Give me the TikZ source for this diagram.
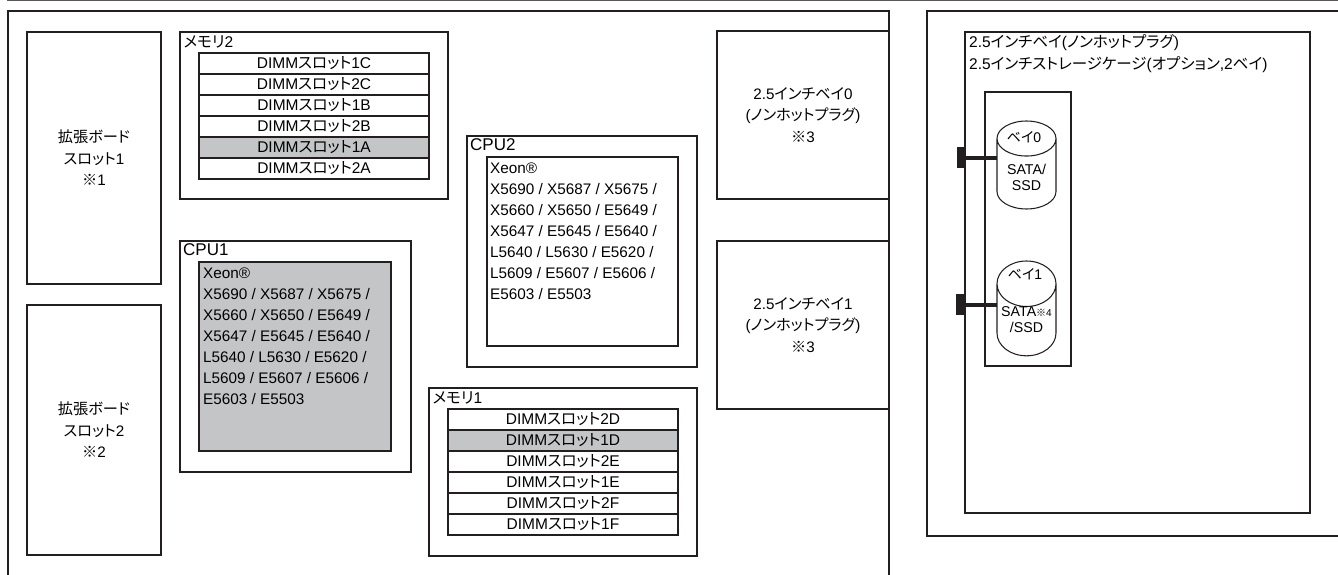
\documentclass[tikz,border=0pt]{standalone}
\usepackage{fontspec}
\setmainfont{Liberation Sans}
\newfontfamily\cjk[RawFeature=+palt]{Noto Sans CJK JP}
\usetikzlibrary{positioning,shapes.geometric}
\definecolor{BoxLine}{HTML}{231F20}
\definecolor{ActiveGray}{HTML}{C4C5C6}
\newcommand{\jp}[1]{{\cjk #1}}
\tikzset{
  outerbox/.style={draw=BoxLine,line width=1.05pt,anchor=north west,inner sep=0pt,outer sep=0pt},
  slotbox/.style={outerbox,align=center,font=\fontsize{15.2}{21.5}\selectfont},
  titletext/.style={anchor=north west,inner sep=0pt,font=\fontsize{15.5}{22.5}\selectfont,align=left},
  cputitle/.style={anchor=north west,inner sep=0pt,font=\fontsize{17}{20}\selectfont},
  dimmrow/.style={draw=BoxLine,line width=1.05pt,minimum width=230pt,minimum height=21pt,inner sep=0pt,outer sep=0pt,font=\fontsize{15.5}{17}\selectfont},
  dimmactive/.style={dimmrow,fill=ActiveGray},
  cputext/.style={anchor=north west,inner sep=0pt,font=\fontsize{15.3}{21}\selectfont,align=left},
  diskbody/.style={draw=BoxLine,line width=1.05pt,fill=white,cylinder,shape border rotate=90,aspect=0.9,minimum height=88pt,minimum width=59pt,inner sep=0pt,outer sep=0pt,align=center,font=\fontsize{14.2}{16}\selectfont},
  disktop/.style={inner sep=0pt,font=\fontsize{14}{16}\selectfont},
  plugbox/.style={fill=BoxLine,minimum width=9pt,minimum height=21pt,inner sep=0pt,outer sep=0pt},
  sataline/.style={draw=BoxLine,line width=4pt}
}
\begin{document}
\begin{tikzpicture}[x=1pt,y=-1pt]
\useasboundingbox (0,0) rectangle (1338,575);
\fill[BoxLine!75] (7,0) rectangle (1338,1.2);
% main board, runs off the bottom
\draw[draw=BoxLine,line width=1.05pt] (8,575) -- (8,11) -- (889,11) -- (889,575);
\draw[draw=BoxLine,line width=1.05pt] (1338,11) -- (927,11) -- (927,536) -- (1338,536);
% expansion slots
\node[slotbox,minimum width=134pt,minimum height=252pt] (slot1) at (27,32) {\jp{拡張ボード}\\\jp{スロット}1\\\jp{※}1};
\node[slotbox,minimum width=134pt,minimum height=250pt] (slot2) at (27,305) {\jp{拡張ボード}\\\jp{スロット}2\\\jp{※}2};
% memory 2
\node[outerbox,minimum width=268pt,minimum height=167pt] (mem2) at (180,32) {};
\node[titletext] (mem2t) at (183.5,36) {\jp{メモリ}2};
\node[dimmrow,anchor=north west] (d1c) at (199,53) {DIMM\jp{スロット}1C};
\node[dimmrow,below=0pt of d1c] (d2c) {DIMM\jp{スロット}2C};
\node[dimmrow,below=0pt of d2c] (d1b) {DIMM\jp{スロット}1B};
\node[dimmrow,below=0pt of d1b] (d2b) {DIMM\jp{スロット}2B};
\node[dimmactive,below=0pt of d2b] (d1a) {DIMM\jp{スロット}1A};
\node[dimmrow,below=0pt of d1a] (d2a) {DIMM\jp{スロット}2A};
% memory 1
\node[outerbox,minimum width=268pt,minimum height=168pt] (mem1) at (429,388) {};
\node[titletext] (mem1t) at (432.5,392) {\jp{メモリ}1};
\node[dimmrow,anchor=north west] (d2d) at (448,409) {DIMM\jp{スロット}2D};
\node[dimmactive,below=0pt of d2d] (d1d) {DIMM\jp{スロット}1D};
\node[dimmrow,below=0pt of d1d] (d2e) {DIMM\jp{スロット}2E};
\node[dimmrow,below=0pt of d2e] (d1e) {DIMM\jp{スロット}1E};
\node[dimmrow,below=0pt of d1e] (d2f) {DIMM\jp{スロット}2F};
\node[dimmrow,below=0pt of d2f] (d1f) {DIMM\jp{スロット}1F};
% cpus
\node[outerbox,minimum width=231pt,minimum height=231pt] (cpu1) at (180,241) {};
\node[cputitle] (cpu1t) at (183,243) {CPU1};
\node[outerbox,fill=ActiveGray,minimum width=192pt,minimum height=189pt] (xeon1) at (199,262) {};
\node[cputext] (xeon1t) at (203,268) {Xeon®\\X5690 / X5687 / X5675 /\\X5660 / X5650 / E5649 /\\X5647 / E5645 / E5640 /\\L5640 / L5630 / E5620 /\\L5609 / E5607 / E5606 /\\E5603 / E5503};
\node[outerbox,minimum width=230pt,minimum height=231pt] (cpu2) at (467,136) {};
\node[cputitle] (cpu2t) at (470,138) {CPU2};
\node[outerbox,minimum width=191pt,minimum height=189pt] (xeon2) at (487,157) {};
\node[cputext] (xeon2t) at (490,163) {Xeon®\\X5690 / X5687 / X5675 /\\X5660 / X5650 / E5649 /\\X5647 / E5645 / E5640 /\\L5640 / L5630 / E5620 /\\L5609 / E5607 / E5606 /\\E5603 / E5503};
% bays
\node[slotbox,minimum width=172pt,minimum height=168pt] (bay0) at (717,31) {2.5\jp{インチベイ}0\\(\jp{ノンホットプラグ})\\\jp{※}3};
\node[slotbox,minimum width=172pt,minimum height=168pt] (bay1) at (717,241) {2.5\jp{インチベイ}1\\(\jp{ノンホットプラグ})\\\jp{※}3};
% storage cage
\node[outerbox,minimum width=345pt,minimum height=481pt] (bays) at (965,32) {};
\node[titletext] (bayst) at (969,34) {2.5\jp{インチベイ}(\jp{ノンホットプラグ})\\2.5\jp{インチストレージケージ}(\jp{オプション},2\jp{ベイ})};
\node[outerbox,minimum width=86pt,minimum height=274pt] (cage) at (985,92) {};
\node[diskbody,anchor=north] (disk0) at (1026.5,121) {\rule{0pt}{18pt}SATA/\\SSD};
\node[diskbody,anchor=north] (disk1) at (1026.5,261) {SATA\jp{\fontsize{10}{10}\selectfont ※}{\fontsize{10}{10}\selectfont 4}\\/SSD};
\node[disktop] (disk0top) at (1024,137) {\jp{ベイ}0};
\node[disktop] (disk1top) at (1025,274) {\jp{ベイ}1};
\node[plugbox] (plug0) at (961,157.5) {};
\node[plugbox] (plug1) at (960.5,304.5) {};
\draw[sataline] (plug0) -- (disk0.west |- plug0);
\draw[sataline] (plug1) -- (disk1.west |- plug1);
\end{tikzpicture}
\end{document}
